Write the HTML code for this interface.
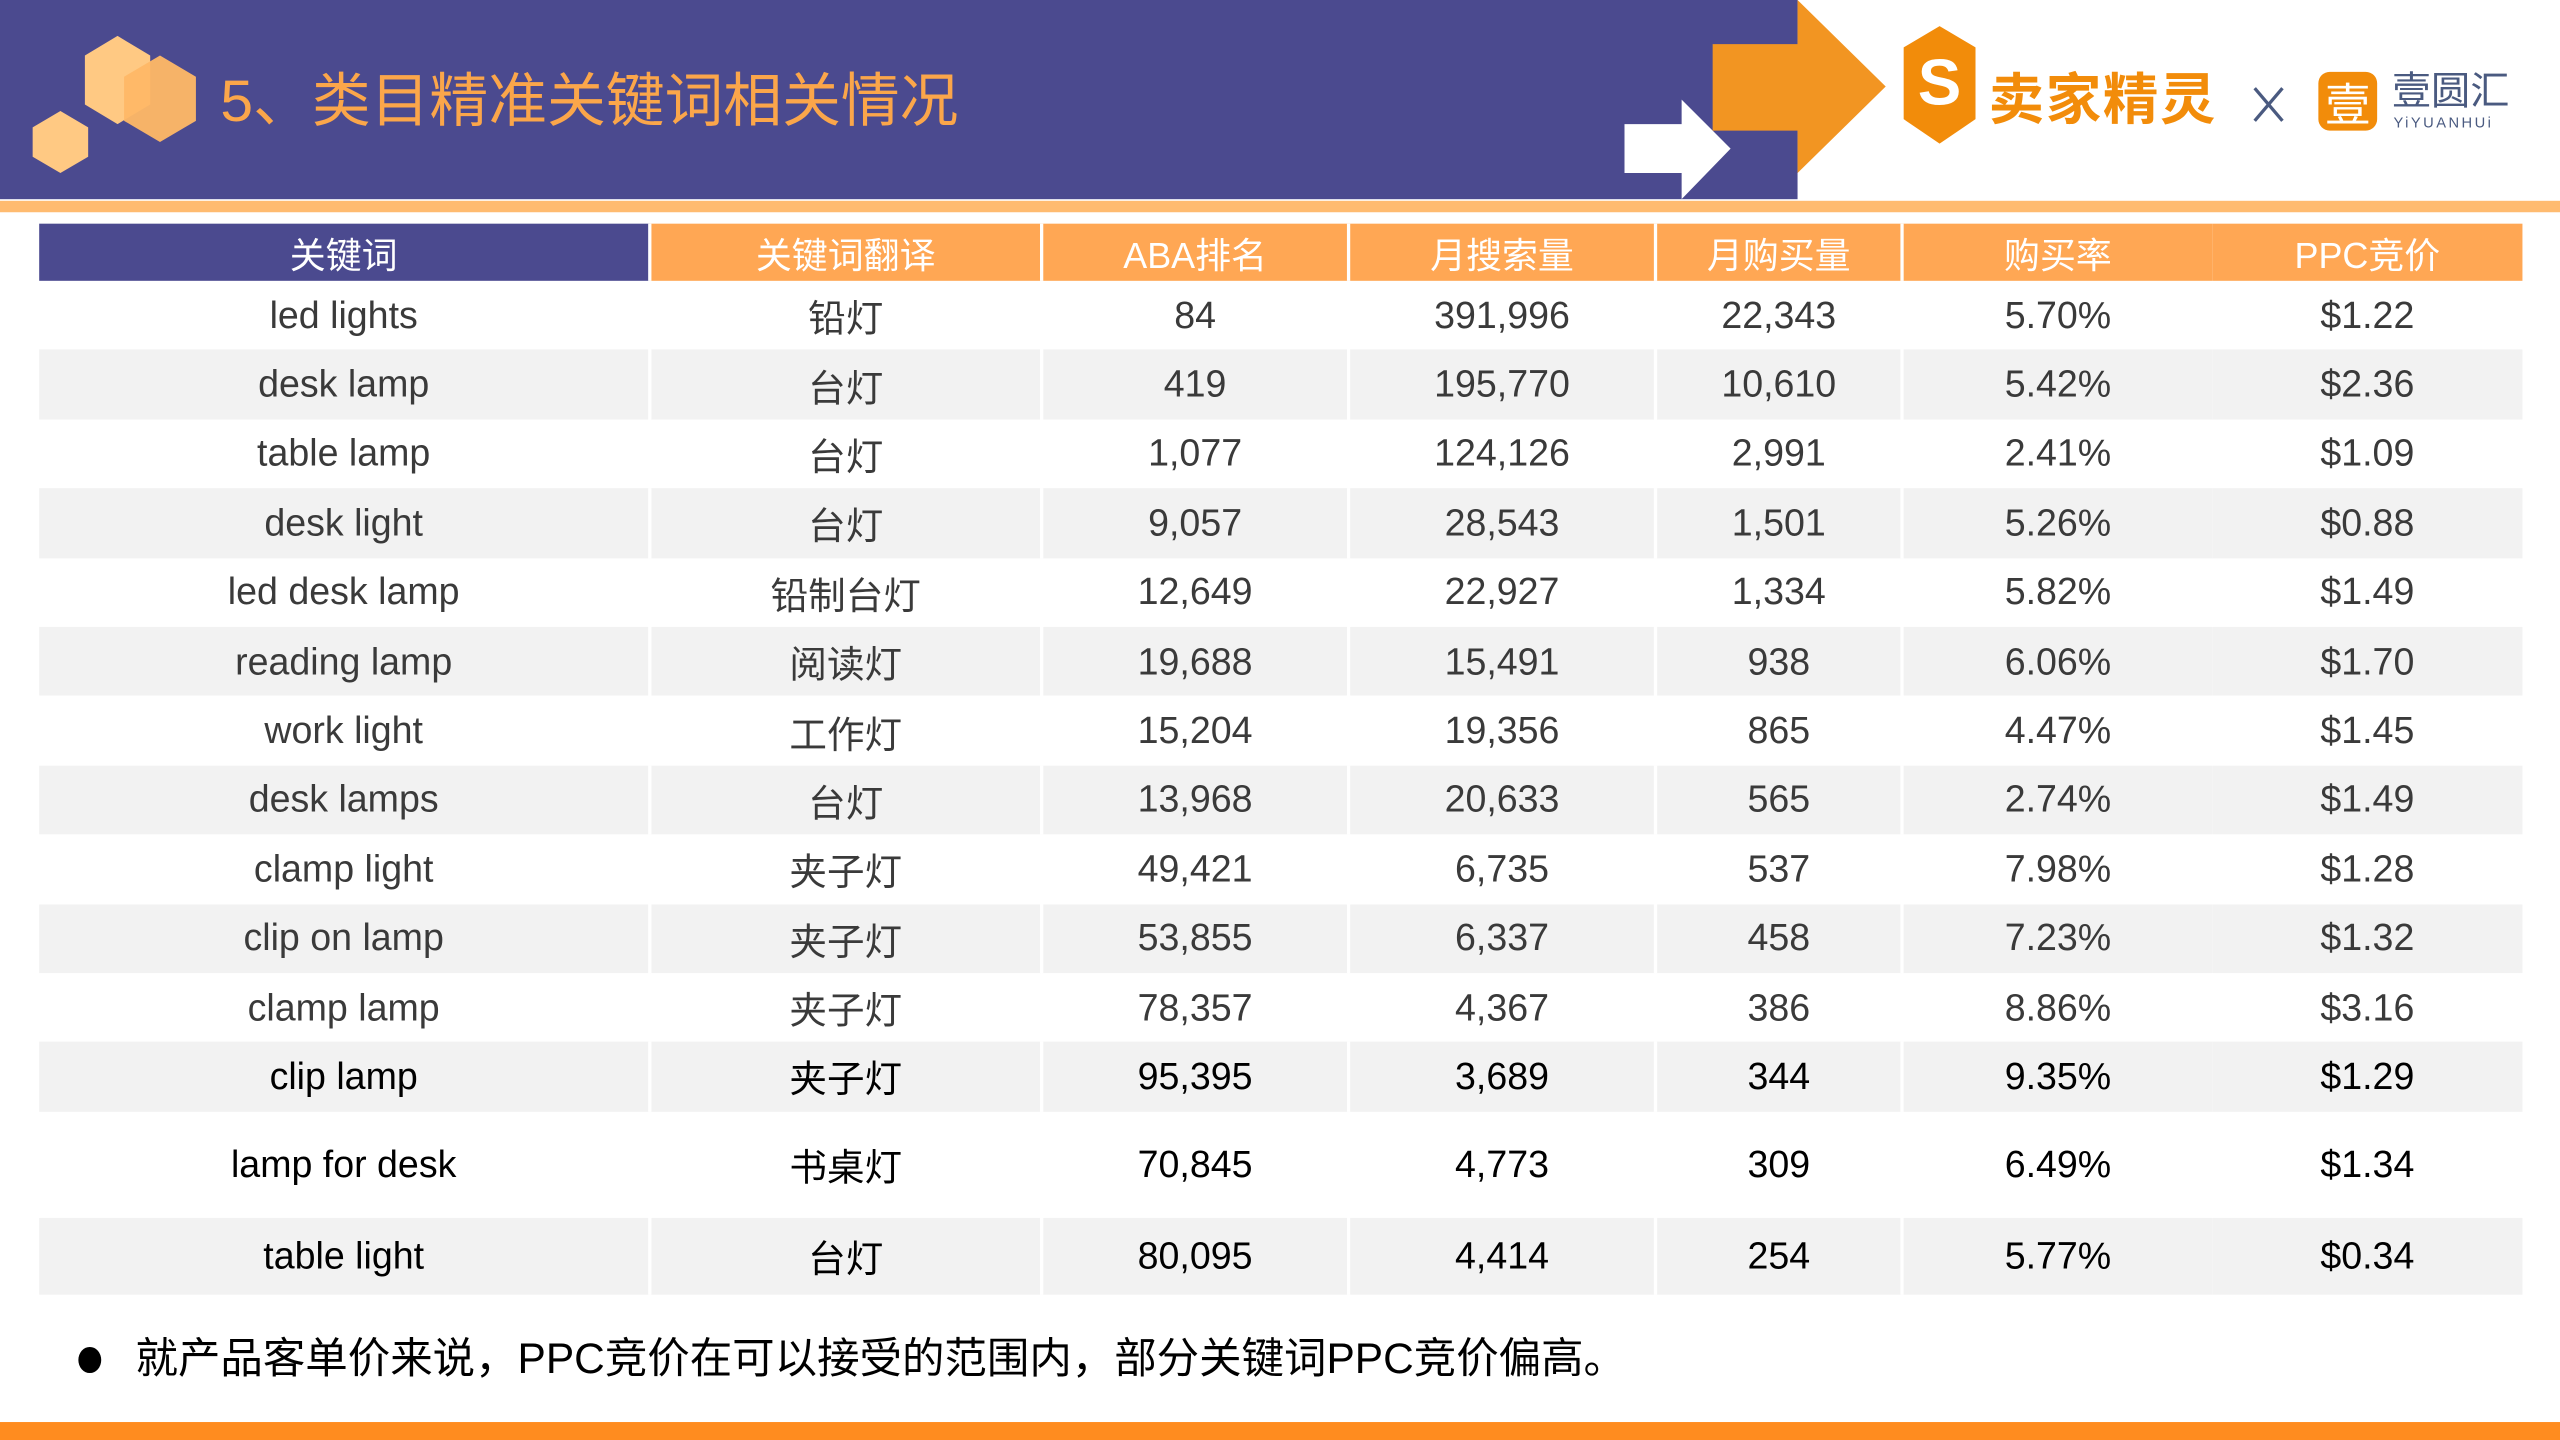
<!DOCTYPE html>
<html><head><meta charset="utf-8"><style>
html,body{margin:0;padding:0;width:2560px;height:1440px;overflow:hidden;background:#fff}
#w{position:absolute;left:0;top:0;width:1568px;height:882px;transform:scale(1.632653);transform-origin:0 0;font-family:"Liberation Sans","Noto Sans CJK SC",sans-serif}
.a{position:absolute}
table{position:absolute;left:24px;top:137px;width:1521px;border-collapse:collapse;table-layout:fixed}
td{padding:0;text-align:center;font-size:23px;color:#3a3a3a;border-left:2px solid #fff;white-space:nowrap}
td:first-child{border-left:none}
tr.h td{height:35px;background:#FFA754;color:#fff;font-size:22px}
tr.h td:first-child{background:#4B4A8F}
tr.r td{height:42.4px}
tr.g td{background:#F2F2F2}
td.n{border-left:none}
tr.k td{color:#000}
</style></head><body><div id="w">
<div class="a" style="left:0;top:0;width:1101px;height:122px;background:#4B4A8F"></div>
<div class="a" style="left:0;top:123px;width:1568px;height:7px;background:#FFBB70"></div>
<svg class="a" style="left:0;top:0" width="1568" height="135">
<polygon points="72,22 92,34 92,64 72,76 52,64 52,34" fill="#FFC983"/>
<polygon points="98,34 120,47 120,74 98,87 76,74 76,47" fill="#FFB866" opacity="0.95"/>
<polygon points="37,68 54,78 54,96 37,106 20,96 20,78" fill="#FFC983"/>
<polygon points="1049,27 1101,27 1101,0 1155,53 1101,106 1101,80 1049,80" fill="#F29522"/>
<polygon points="995,76 1030,76 1030,61 1060,91 1030,122 1030,106 995,106" fill="#fff"/>
<polygon points="1188,16 1210,29 1210,73 1188,88 1166,73 1166,29" fill="#F28C0A"/>
<text x="1188" y="64" text-anchor="middle" font-size="40" font-weight="bold" fill="#fff" font-family="Liberation Sans,sans-serif">S</text>
<rect x="1420" y="44" width="36" height="36" rx="7" fill="#F28C0A"/>
<text x="1438" y="74" text-anchor="middle" font-size="28" fill="#fff" font-family="Noto Sans CJK SC,sans-serif">壹</text>
<line x1="1381" y1="54" x2="1398" y2="74" stroke="#4a5a80" stroke-width="2"/>
<line x1="1398" y1="54" x2="1381" y2="74" stroke="#4a5a80" stroke-width="2"/>
</svg>
<div class="a" style="left:135px;top:38px;font-size:36px;color:#FBA64A;line-height:48px">5、类目精准关键词相关情况</div>
<div class="a" style="left:1218px;top:38px;font-size:34px;font-weight:bold;color:#F28C0A;line-height:48px;letter-spacing:1px">卖家精灵</div>
<div class="a" style="left:1465px;top:42px;font-size:24px;color:#4a5a80;line-height:30px">壹圆汇</div>
<div class="a" style="left:1466px;top:70px;font-size:9px;color:#4a5a80;letter-spacing:1.5px">YiYUANHUi</div>
<table>
<colgroup><col style="width:374px"><col style="width:240px"><col style="width:188px"><col style="width:188px"><col style="width:151px"><col style="width:190px"><col style="width:190px"></colgroup>
<tr class="h"><td>关键词</td><td>关键词翻译</td><td>ABA排名</td><td>月搜索量</td><td>月购买量</td><td>购买率</td><td class="n">PPC竞价</td></tr>
<tr class="r"><td>led lights</td><td>铅灯</td><td>84</td><td>391,996</td><td>22,343</td><td>5.70%</td><td class="n">$1.22</td></tr>
<tr class="r g"><td>desk lamp</td><td>台灯</td><td>419</td><td>195,770</td><td>10,610</td><td>5.42%</td><td class="n">$2.36</td></tr>
<tr class="r"><td>table lamp</td><td>台灯</td><td>1,077</td><td>124,126</td><td>2,991</td><td>2.41%</td><td class="n">$1.09</td></tr>
<tr class="r g"><td>desk light</td><td>台灯</td><td>9,057</td><td>28,543</td><td>1,501</td><td>5.26%</td><td class="n">$0.88</td></tr>
<tr class="r"><td>led desk lamp</td><td>铅制台灯</td><td>12,649</td><td>22,927</td><td>1,334</td><td>5.82%</td><td class="n">$1.49</td></tr>
<tr class="r g"><td>reading lamp</td><td>阅读灯</td><td>19,688</td><td>15,491</td><td>938</td><td>6.06%</td><td class="n">$1.70</td></tr>
<tr class="r"><td>work light</td><td>工作灯</td><td>15,204</td><td>19,356</td><td>865</td><td>4.47%</td><td class="n">$1.45</td></tr>
<tr class="r g"><td>desk lamps</td><td>台灯</td><td>13,968</td><td>20,633</td><td>565</td><td>2.74%</td><td class="n">$1.49</td></tr>
<tr class="r"><td>clamp light</td><td>夹子灯</td><td>49,421</td><td>6,735</td><td>537</td><td>7.98%</td><td class="n">$1.28</td></tr>
<tr class="r g"><td>clip on lamp</td><td>夹子灯</td><td>53,855</td><td>6,337</td><td>458</td><td>7.23%</td><td class="n">$1.32</td></tr>
<tr class="r"><td>clamp lamp</td><td>夹子灯</td><td>78,357</td><td>4,367</td><td>386</td><td>8.86%</td><td class="n">$3.16</td></tr>
<tr class="r g k"><td>clip lamp</td><td>夹子灯</td><td>95,395</td><td>3,689</td><td>344</td><td>9.35%</td><td class="n">$1.29</td></tr>
<tr class="k"><td style="height:65px">lamp for desk</td><td>书桌灯</td><td>70,845</td><td>4,773</td><td>309</td><td>6.49%</td><td class="n">$1.34</td></tr>
<tr class="g k"><td style="height:47px">table light</td><td>台灯</td><td>80,095</td><td>4,414</td><td>254</td><td>5.77%</td><td class="n">$0.34</td></tr>
</table>
<div class="a" style="left:48px;top:825px;width:14px;height:16px;border-radius:50%;background:#000"></div>
<div class="a" style="left:83px;top:814px;font-size:26px;color:#000;line-height:36px">就产品客单价来说，PPC竞价在可以接受的范围内，部分关键词PPC竞价偏高。</div>
<div class="a" style="left:0;top:871px;width:1568px;height:11px;background:#FF8C1F"></div>
</div></body></html>
